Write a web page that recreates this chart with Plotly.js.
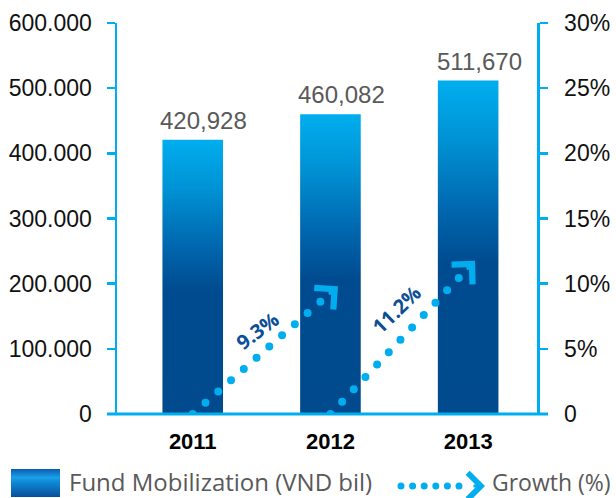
<!DOCTYPE html>
<html><head><meta charset="utf-8">
<script src="https://cdn.plot.ly/plotly-3.0.1.min.js"></script>
<style>html,body{margin:0;padding:0;background:#fff}#chart{width:616px;height:498px}</style>
</head><body><div id="chart"></div>
<script>
// ---- data ----
const years = ['2011', '2012', '2013'];
const fundValues = [420928, 460082, 511670];
const fundLabels = ['420,928', '460,082', '511,670'];
const growthFrom = ['2011', '2012'];
const growthTo = ['2012', '2013'];
const growthStart = [0, 0];
const growthValues = [9.3, 11.2];
const growthLabels = ['9.3%', '11.2%'];
const leftTickVals = [0, 100000, 200000, 300000, 400000, 500000, 600000];
const rightTickVals = [0, 5, 10, 15, 20, 25, 30];
const rightTickText = ['0', '5%', '10%', '15%', '20%', '25%', '30%'];
const seriesNames = ['Fund Mobilization (VND bil)', 'Growth (%)'];

// ---- geometry / style ----
const W = 616, H = 498;
const M = {l: 117, r: 79, t: 23, b: 84};
const PW = W - M.l - M.r, PH = H - M.t - M.b;
const px2x = px => (px - M.l) / PW;
const px2y = py => (H - M.b - py) / PH;
const xRange = [-0.55, 2.5];
const cyan = '#00aeef';
const navy = '#0d4f97';
const labelAngles = [-37, -44];
const labelShiftX = [-4, -3];
const labelShiftY = [23, 32];

const traces = [{
  type: 'bar', x: years, y: fundValues, name: seriesNames[0],
  marker: {color: '#0a5aa8', line: {width: 0}}, width: 0.44,
  hoverinfo: 'x+y', showlegend: false
}];
growthValues.forEach((v, i) => {
  traces.push({
    type: 'scatter', mode: 'lines', x: [growthFrom[i], growthTo[i]], y: [growthStart[i], v],
    yaxis: 'y2', name: seriesNames[1], line: {color: cyan, width: 8},
    cliponaxis: false, showlegend: false
  });
});

const annotations = [];
fundValues.forEach((v, i) => {
  annotations.push({
    x: i, y: v, xref: 'x', yref: 'y', text: fundLabels[i], showarrow: false,
    yanchor: 'bottom', xshift: 11, yshift: 4,
    font: {family: 'Liberation Sans, Arial, sans-serif', size: 24, color: '#595959'}
  });
});
const catPx = PW / (xRange[1] - xRange[0]), y2Px = PH / 30;
growthValues.forEach((v, i) => {
  const x0 = years.indexOf(growthFrom[i]), x1 = years.indexOf(growthTo[i]);
  annotations.push({
    x: (x0 + x1) / 2, y: (growthStart[i] + v) / 2, xref: 'x', yref: 'y2', text: growthLabels[i],
    showarrow: false, textangle: labelAngles[i], xshift: labelShiftX[i], yshift: labelShiftY[i],
    font: {family: 'Open Sans, sans-serif', size: 20, weight: 700, color: navy}
  });
  const dx = (x1 - x0) * catPx, dy = (v - growthStart[i]) * y2Px;
  const len = Math.hypot(dx, dy), ux = dx / len, uy = dy / len;
  const L = 14, S = 10;
  annotations.push({
    x: x1, y: v, xref: 'x', yref: 'y2', text: ' ', showarrow: true,
    arrowhead: 4, arrowwidth: 3, arrowsize: 1.85, arrowcolor: cyan,
    ax: -ux * L, ay: uy * L, xshift: ux * S, yshift: uy * S,
    font: {size: 1}
  });
});
// legend texts
annotations.push({
  xref: 'paper', yref: 'paper', x: px2x(67), y: px2y(481), xanchor: 'left', yanchor: 'middle',
  text: seriesNames[0], showarrow: false,
  font: {family: 'Open Sans, sans-serif', size: 24, color: '#595959'}
});
annotations.push({
  xref: 'paper', yref: 'paper', x: px2x(490), y: px2y(482), xanchor: 'left', yanchor: 'middle',
  text: seriesNames[1], showarrow: false,
  font: {family: 'Open Sans, sans-serif', size: 23, color: '#595959'}
});
annotations.push({
  xref: 'paper', yref: 'paper', x: px2x(485), y: px2y(486), text: ' ', showarrow: true,
  arrowhead: 4, arrowwidth: 3, arrowsize: 1.7, arrowcolor: cyan, ax: -13, ay: 0, font: {size: 1}
});

const shapes = [
  {type: 'line', xref: 'paper', yref: 'paper', x0: px2x(107), x1: px2x(548), y0: 0, y1: 0,
   line: {color: cyan, width: 3}},
  {type: 'rect', xref: 'paper', yref: 'paper', x0: px2x(11), x1: px2x(60), y0: px2y(469), y1: px2y(497),
   fillcolor: '#010203', line: {width: 0}},
  {type: 'line', xref: 'paper', yref: 'paper', x0: px2x(401), x1: px2x(460), y0: px2y(486), y1: px2y(486),
   line: {color: cyan, width: 7, dash: 'dot'}}
];

const tickFont = {family: 'Liberation Sans, Arial, sans-serif', size: 23, color: '#111'};
const layout = {
  width: W, height: H, margin: M, paper_bgcolor: '#fff', plot_bgcolor: '#fff',
  separators: ',.', showlegend: false, bargap: 0.56,
  xaxis: {type: 'category', range: xRange, showline: false, ticks: '', showgrid: false,
    zeroline: false, tickfont: {family: 'Liberation Sans, Arial, sans-serif', size: 22, weight: 700, color: '#000'},
    ticklabelstandoff: 12, fixedrange: true},
  yaxis: {range: [0, 600000], tickvals: leftTickVals, tickformat: ',d', showgrid: false, zeroline: false,
    showline: true, linecolor: cyan, linewidth: 2.5, ticks: 'outside', ticklen: 8, tickwidth: 2.5,
    tickcolor: cyan, tickfont: tickFont, ticklabelstandoff: 10, fixedrange: true},
  yaxis2: {overlaying: 'y', side: 'right', range: [0, 30], tickvals: rightTickVals, ticktext: rightTickText,
    showgrid: false, zeroline: false, showline: true, linecolor: cyan, linewidth: 2.5, ticks: 'outside',
    ticklen: 8, tickwidth: 2.5, tickcolor: cyan, tickfont: tickFont, ticklabelstandoff: 12, fixedrange: true},
  annotations: annotations, shapes: shapes
};

function addGrad(defs, id, stops) {
  if (defs.querySelector('#' + id)) return;
  const ns = 'http://www.w3.org/2000/svg';
  const g = document.createElementNS(ns, 'linearGradient');
  g.setAttribute('id', id); g.setAttribute('x1', '0'); g.setAttribute('y1', '0');
  g.setAttribute('x2', '0'); g.setAttribute('y2', '1');
  stops.forEach(s => {
    const st = document.createElementNS(ns, 'stop');
    st.setAttribute('offset', s[0]); st.setAttribute('stop-color', s[1]);
    g.appendChild(st);
  });
  defs.appendChild(g);
}
function decorate() {
  const gd = document.getElementById('chart');
  const svg = gd.querySelector('svg.main-svg');
  let defs = svg.querySelector('defs');
  if (!defs) { defs = document.createElementNS('http://www.w3.org/2000/svg', 'defs'); svg.insertBefore(defs, svg.firstChild); }
  addGrad(defs, 'barGrad', [[0, '#00aeef'], [0.18, '#0092d4'], [0.38, '#0068b0'], [0.55, '#004b8f'], [1, '#004a8d']]);
  addGrad(defs, 'legGrad', [[0, '#0a5bb0'], [0.3, '#1a9fe8'], [0.5, '#0e86d2'], [1, '#0a4e99']]);
  gd.querySelectorAll('.barlayer .point path').forEach(p => { p.style.fill = 'url(#barGrad)'; });
  gd.querySelectorAll('.scatterlayer .js-line').forEach(p => {
    p.style.strokeDasharray = '0 17'; p.style.strokeLinecap = 'round';
  });
  gd.querySelectorAll('.shapelayer path').forEach(p => {
    if (p.style.fill === 'rgb(1, 2, 3)') p.style.fill = 'url(#legGrad)';
    const da = p.style.strokeDasharray;
    if (da && da !== 'none' && da !== '') { p.style.strokeDasharray = '0 11.6'; p.style.strokeLinecap = 'round'; }
  });
}
const gd = document.getElementById('chart');
Plotly.newPlot(gd, traces, layout, {displayModeBar: false, staticPlot: true}).then(() => {
  decorate();
  gd.on && gd.on('plotly_afterplot', decorate);
});
</script></body></html>
